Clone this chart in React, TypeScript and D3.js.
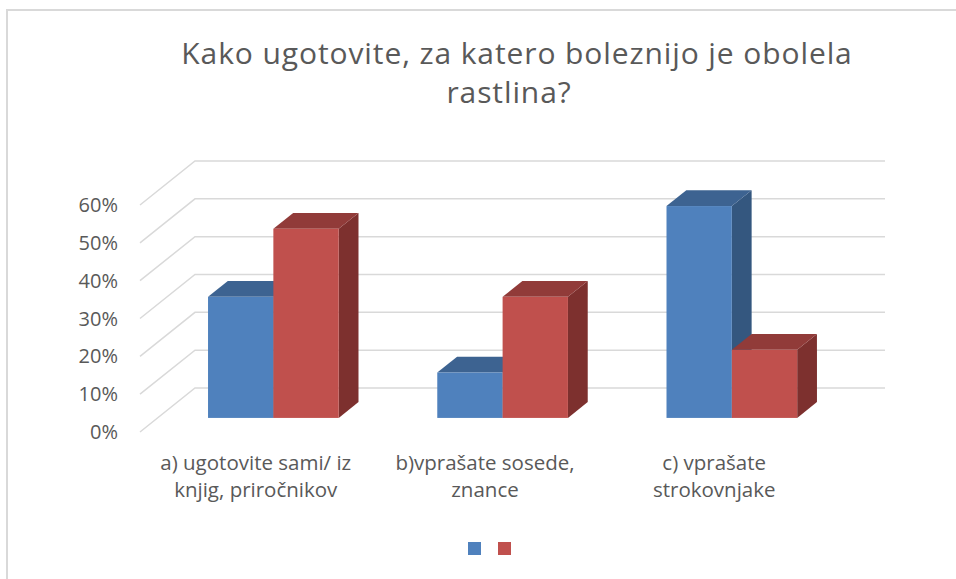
import React from "react";
import * as d3 from "d3";

const categories = ["a", "b", "c"];
const categoryLines = [
  ["a) ugotovite sami/ iz", "knjig, priročnikov"],
  ["b)vprašate sosede,", "znance"],
  ["c) vprašate", "strokovnjake"],
];
const seriesNames = ["", ""];
const series1 = [0.32, 0.12, 0.56];
const series2 = [0.5, 0.32, 0.18];
const yTicks = [0, 0.1, 0.2, 0.3, 0.4, 0.5, 0.6];
const titleLines = ["Kako ugotovite, za katero boleznijo je obolela", "rastlina?"];

const W = 956;
const H = 579;
const FONT = "'Open Sans', Lato, sans-serif";
const TEXT = "#595959";
const GRID = "#d9d9d9";

// back wall extents and the depth vector from back wall to front edge of the floor
const wallLeft = 195;
const wallRight = 885;
const DX = -55;
const DY = 44;
const zFront = 0.68; // bar front face depth
const zBack = 0.32; // bar back face depth

const colors = [
  { front: "#4f81bd", top: "#3d6391", side: "#34577f" },
  { front: "#c0504d", top: "#913b39", side: "#7d302e" },
];

export default function App() {
  const y = d3.scaleLinear().domain([0, 0.6]).range([388, 161]);
  const x = d3
    .scaleBand<string>()
    .domain(categories)
    .range([wallLeft, wallRight])
    .paddingInner(0.43)
    .paddingOuter(0.22);
  const x1 = d3
    .scaleBand<number>()
    .domain([0, 1])
    .range([0, x.bandwidth()]);

  const values = [series1, series2];
  const ddx = (zBack - zFront) * DX;
  const ddy = (zBack - zFront) * DY;
  const pts = (p: number[][]) => p.map((q) => q.join(",")).join(" ");

  const bars: React.ReactNode[] = [];
  categories.forEach((c, ci) => {
    [0, 1].forEach((si) => {
      const v = values[si][ci];
      const xl = (x(c) as number) + (x1(si) as number) + zFront * DX;
      const w = x1.bandwidth();
      const yb = y(0) + zFront * DY;
      const yt = y(v) + zFront * DY;
      const col = colors[si];
      bars.push(
        <g key={c + si}>
          <polygon
            points={pts([
              [xl + w, yt],
              [xl + w + ddx, yt + ddy],
              [xl + w + ddx, yb + ddy],
              [xl + w, yb],
            ])}
            fill={col.side}
          />
          <polygon
            points={pts([
              [xl, yt],
              [xl + w, yt],
              [xl + w + ddx, yt + ddy],
              [xl + ddx, yt + ddy],
            ])}
            fill={col.top}
          />
          <rect x={xl} y={yt} width={w} height={yb - yt} fill={col.front} />
        </g>
      );
    });
  });

  return (
    <svg
      width={W}
      height={H}
      style={{ position: "absolute", left: 0, top: 0, background: "#fff" }}
      fontFamily={FONT}
    >
      <rect x={7} y={10} width={W + 20} height={H + 20} fill="#fff" stroke={GRID} strokeWidth={2} />

      <text textAnchor="middle" fontSize={30} letterSpacing={0.9} fill={TEXT}>
        {titleLines.map((t, i) => (
          <tspan key={i} x={i === 0 ? 517 : 509} y={64 + i * 39}>
            {t}
          </tspan>
        ))}
      </text>

      {yTicks.map((t) => (
        <g key={t}>
          <polyline
            points={pts([
              [wallLeft + DX, y(t) + DY],
              [wallLeft, y(t)],
              [wallRight, y(t)],
            ])}
            fill="none"
            stroke={GRID}
            strokeWidth={1.5}
          />
          <text x={118} y={y(t) + DY + 7} textAnchor="end" fontSize={20} fill={TEXT}>
            {d3.format(".0%")(t)}
          </text>
        </g>
      ))}

      {bars}

      {categories.map((c, ci) => (
        <text
          key={c}
          x={(x(c) as number) + x.bandwidth() / 2 + DX}
          textAnchor="middle"
          fontSize={20.5}
          fill={TEXT}
        >
          {categoryLines[ci].map((l, li) => (
            <tspan key={li} x={(x(c) as number) + x.bandwidth() / 2 + DX} y={470 + li * 26.5}>
              {l}
            </tspan>
          ))}
        </text>
      ))}

      {seriesNames.map((s, i) => (
        <g key={i} transform={`translate(${468 + i * 30},542)`}>
          <rect width={13} height={13} fill={colors[i].front} />
          <text x={17} y={11} fontSize={18} fill={TEXT}>
            {s}
          </text>
        </g>
      ))}
    </svg>
  );
}
